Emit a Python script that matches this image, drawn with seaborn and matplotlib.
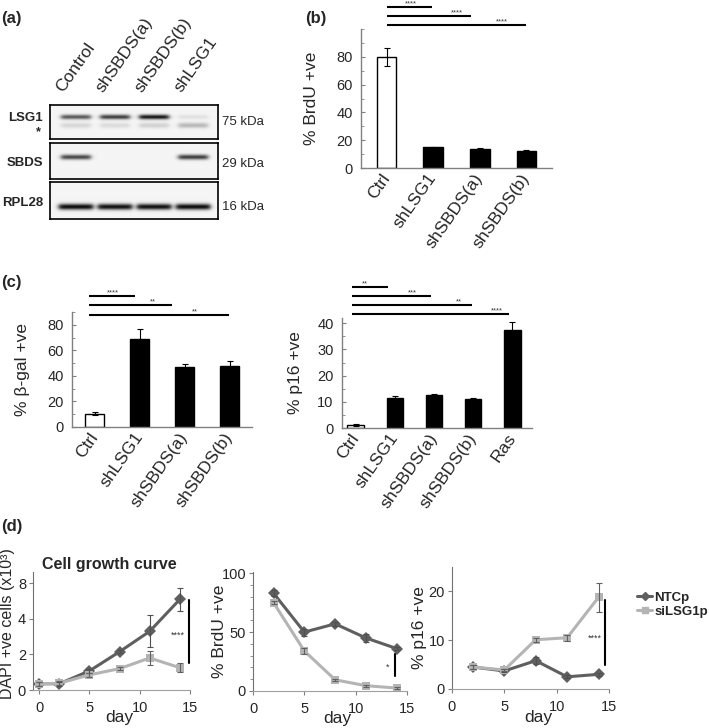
import numpy as np
import pandas as pd
import matplotlib
matplotlib.use("Agg")
import matplotlib.pyplot as plt
import seaborn as sns
from matplotlib.ticker import MultipleLocator
from matplotlib.lines import Line2D

# ── Data ──────────────────────────────────────────────────────────────────────
# (a) western blot, relative band intensities per lane
blot_lanes  = ["Control", "shSBDS(a)", "shSBDS(b)", "shLSG1"]
lsg1_upper  = [0.62, 0.72, 0.88, 0.08]
lsg1_lower  = [0.12, 0.10, 0.14, 0.24]
sbds_band   = [0.68, 0.0, 0.0, 0.72]
rpl28_band  = [0.92, 0.90, 0.90, 0.92]

# (b) BrdU
brdu_groups = ["Ctrl", "shLSG1", "shSBDS(a)", "shSBDS(b)"]
brdu_vals   = [80, 15, 13.4, 12.3]
brdu_errs   = [6.5, 0.4, 1.2, 0.3]

# (c) beta-gal and p16
bgal_groups = ["Ctrl", "shLSG1", "shSBDS(a)", "shSBDS(b)"]
bgal_vals   = [10.5, 68.8, 46.8, 47.6]
bgal_errs   = [1.0, 8.0, 2.4, 4.0]

p16_groups  = ["Ctrl", "shLSG1", "shSBDS(a)", "shSBDS(b)", "Ras"]
p16_vals    = [1.2, 11.6, 12.7, 11.1, 37.6]
p16_errs    = [0.3, 0.7, 0.3, 0.3, 3.0]

# (d) time courses
growth_days = [0, 2, 5, 8, 11, 14]
growth_ntc  = [0.35, 0.35, 1.07, 2.15, 3.3, 5.1]
growth_ntc_err = [0.1, 0.1, 0.12, 0.08, 0.9, 0.65]
growth_si   = [0.35, 0.38, 0.85, 1.2, 1.8, 1.25]
growth_si_err = [0.1, 0.1, 0.1, 0.08, 0.4, 0.25]

tc_days     = [2, 5, 8, 11, 14]
brdu_ntc    = [83, 50, 57, 45, 36]
brdu_ntc_err = [2.5, 3, 1.5, 3, 1]
brdu_si     = [75, 34, 9.5, 4.5, 2.5]
brdu_si_err = [1.5, 2.5, 1, 1, 1]

p16_ntc     = [4.5, 3.7, 5.8, 2.5, 3.0]
p16_ntc_err = [0.5, 0.3, 0.7, 0.3, 0.3]
p16_si      = [4.5, 3.9, 10.1, 10.5, 18.8]
p16_si_err  = [0.5, 0.3, 0.4, 0.6, 3.0]

# ── Style ─────────────────────────────────────────────────────────────────────
sns.set_style("ticks")
plt.rcParams["font.family"] = ["Liberation Sans", "DejaVu Sans"]

W, H = 709, 728
fig = plt.figure(figsize=(W / 100, H / 100), dpi=100)
AXC = "#808080"
NTC_C, SI_C = "#5f5f5f", "#b4b4b4"


def px_axes(l, t, r, b):
    return fig.add_axes([l / W, 1 - b / H, (r - l) / W, (b - t) / H])


def ftxt(x, y, s, **kw):
    fig.text(x / W, 1 - y / H, s, **kw)


# ── (a) blot ──────────────────────────────────────────────────────────────────
BX = (-0.66, 3.63)


def blot_box(ax, bands, half_w):
    xs = np.linspace(BX[0], BX[1], 420)
    ys = np.linspace(0, 1, 90)
    img = np.full((ys.size, xs.size), 0.04)
    for ypos, thick, ints in bands:
        prof_y = np.exp(-((ys - ypos) / thick) ** 2)
        for lane, inten in enumerate(ints):
            prof_x = (1 / (1 + np.exp(-(xs - (lane - half_w)) / 0.035))
                      * 1 / (1 + np.exp((xs - (lane + half_w)) / 0.035)))
            img += inten * np.outer(prof_y, prof_x)
    ax.imshow(img, cmap="gray_r", vmin=0, vmax=1, aspect="auto",
              extent=(BX[0], BX[1], 1, 0), interpolation="bilinear")
    ax.set_xlim(BX)
    ax.set_ylim(1, 0)
    ax.set_xticks([])
    ax.set_yticks([])
    for s in ax.spines.values():
        s.set_color("black")
        s.set_linewidth(1.2)


ax_b1 = px_axes(50, 105, 218, 139)
blot_box(ax_b1, [(0.35, 0.07, lsg1_upper), (0.60, 0.08, lsg1_lower)], 0.38)
ax_b2 = px_axes(50, 143, 218, 179)
blot_box(ax_b2, [(0.39, 0.07, sbds_band)], 0.38)
ax_b3 = px_axes(50, 182, 218, 219)
blot_box(ax_b3, [(0.68, 0.08, rpl28_band)], 0.44)

for i, name in enumerate(blot_lanes):
    ax_b1.text(i - 0.25, -0.3, name, rotation=55, rotation_mode="anchor",
               ha="left", va="bottom", fontsize=12.5,
               transform=ax_b1.transData, clip_on=False)

for y, s in [(118, "LSG1"), (163, "SBDS"), (203, "RPL28")]:
    ftxt(43, y, s, ha="right", va="center", fontsize=9.5, fontweight="bold")
ftxt(38, 132, "*", ha="center", va="center", fontsize=9, fontweight="bold")
for y, s in [(122, "75 kDa"), (164, "29 kDa"), (207, "16 kDa")]:
    ftxt(222, y, s, ha="left", va="center", fontsize=9.5)


# ── bar panels ────────────────────────────────────────────────────────────────
def bar_panel(ax, groups, vals, errs, xlim, ylim, major, minor, ylabel, lx):
    df = pd.DataFrame({"group": groups, "value": vals})
    colors = ["white"] + ["black"] * (len(groups) - 1)
    sns.barplot(data=df, x="group", y="value", hue="group", palette=colors,
                edgecolor="black", linewidth=1, width=0.42, legend=False,
                errorbar=None, ax=ax)
    ax.errorbar(np.arange(len(groups)), vals, yerr=errs, fmt="none",
                ecolor="black", elinewidth=0.8, capsize=2.5, capthick=0.8)
    ax.set_xlim(xlim)
    ax.set_ylim(ylim)
    ax.set_xlabel("")
    ax.set_ylabel(ylabel, fontsize=12.5)
    ax.yaxis.set_label_coords(lx, 0.5)
    ax.yaxis.set_major_locator(MultipleLocator(major))
    ax.yaxis.set_minor_locator(MultipleLocator(minor))
    ax.tick_params(axis="y", direction="in", length=3, labelsize=10.5,
                   color=AXC, pad=6)
    ax.tick_params(axis="y", which="minor", direction="in", length=2,
                   color=AXC)
    ax.tick_params(axis="x", length=0, labelsize=12.5, pad=5)
    for lbl in ax.get_xticklabels():
        lbl.set_rotation(55)
        lbl.set_ha("right")
        lbl.set_va("center")
        lbl.set_rotation_mode("anchor")
    sns.despine(ax=ax)
    for s in ("left", "bottom"):
        ax.spines[s].set_color(AXC)
        ax.spines[s].set_linewidth(1)


def sig_line(ax, x0, x1, y, stars, sx):
    ax.plot([x0, x1], [y, y], color="black", lw=1.5, clip_on=False,
            solid_capstyle="butt")
    ax.annotate(stars, (sx, y), xytext=(0, 2.2), textcoords="offset points",
                ha="center", va="center", fontsize=5.5, color="#333333",
                annotation_clip=False)


# (b)
ax_brdu = px_axes(361, 29, 552, 168)
bar_panel(ax_brdu, brdu_groups, brdu_vals, brdu_errs, (-0.55, 3.55),
          (0, 100), 20, 10, "% BrdU +ve", -0.22)
ax_brdu.set_yticks([0, 20, 40, 60, 80])
sig_line(ax_brdu, 0, 0.98, 116, "****", 0.53)
sig_line(ax_brdu, 0, 1.81, 109.5, "****", 1.51)
sig_line(ax_brdu, 0, 3.0, 103, "****", 2.47)

# (c) left
ax_bgal = px_axes(72, 312, 252, 427)
bar_panel(ax_bgal, bgal_groups, bgal_vals, bgal_errs, (-0.5, 3.5),
          (0, 90), 20, 10, "% β-gal +ve", -0.235)
ax_bgal.set_yticks([0, 20, 40, 60, 80])
sig_line(ax_bgal, -0.13, 0.89, 102.7, "****", 0.4)
sig_line(ax_bgal, -0.13, 1.73, 95.7, "**", 1.29)
sig_line(ax_bgal, -0.13, 2.98, 87.8, "**", 2.24)

# (c) right
ax_p16 = px_axes(342, 318, 532, 428)
bar_panel(ax_p16, p16_groups, p16_vals, p16_errs, (-0.35, 4.5),
          (0, 42), 10, 5, "% p16 +ve", -0.205)
ax_p16.set_yticks([0, 10, 20, 30, 40])
sig_line(ax_p16, -0.09, 0.83, 53.8, "**", 0.24)
sig_line(ax_p16, -0.09, 1.91, 50.4, "***", 1.45)
sig_line(ax_p16, -0.09, 2.96, 46.9, "**", 2.63)
sig_line(ax_p16, -0.09, 3.91, 43.5, "****", 3.6)


# ── (d) line panels ───────────────────────────────────────────────────────────
def line_panel(ax, days, ntc, ntc_err, si, si_err, xlim, ylim, ylabel, lx,
               lsize=12.5):
    n = len(days)
    df = pd.DataFrame({"day": list(days) * 2, "value": list(ntc) + list(si),
                       "group": ["NTCp"] * n + ["siLSG1p"] * n})
    sns.lineplot(data=df, x="day", y="value", hue="group", style="group",
                 markers={"NTCp": "D", "siLSG1p": "s"}, dashes=False,
                 palette={"NTCp": NTC_C, "siLSG1p": SI_C}, linewidth=2.2,
                 markersize=6, markeredgewidth=0, legend=False, ax=ax)
    ax.errorbar(days, ntc, yerr=ntc_err, fmt="none", ecolor="#505050",
                elinewidth=0.8, capsize=2, capthick=0.8)
    ax.errorbar(days, si, yerr=si_err, fmt="none", ecolor="#606060",
                elinewidth=0.8, capsize=2, capthick=0.8)
    ax.set_xlim(xlim)
    ax.set_ylim(ylim)
    ax.set_xticks([0, 5, 10, 15])
    ax.set_xlabel("day", fontsize=12.5)
    ax.xaxis.set_label_coords(0.55, -0.17)
    ax.set_ylabel(ylabel, fontsize=lsize)
    ax.yaxis.set_label_coords(lx, 0.5)
    ax.tick_params(labelsize=10.5, length=3, color=AXC, pad=5)
    ax.tick_params(axis="y", pad=2)
    sns.despine(ax=ax)
    ax.spines["left"].set_color("#707070")
    ax.spines["bottom"].set_color("#a0a0a0")


def vsig(ax, x, y0, y1, stars, sx, sy):
    ax.plot([x, x], [y0, y1], color="black", lw=1.5, clip_on=False)
    ax.text(sx, sy, stars, ha="center", va="center", fontsize=6.5,
            color="#333333")


ax_g = px_axes(33, 572, 190, 690)
line_panel(ax_g, growth_days, growth_ntc, growth_ntc_err, growth_si,
           growth_si_err, (-0.6, 15), (0, 6.63), "DAPI +ve cells (x10³)",
           -0.115, lsize=11.5)
ax_g.yaxis.set_label_coords(-0.115, 0.56)
ax_g.set_yticks([0, 2, 4, 6])
ax_g.set_yticklabels(["0", "2", "4", "8"])
vsig(ax_g, 14.9, 5.06, 1.52, "****", 13.8, 3.1)
ftxt(42, 565, "Cell growth curve", ha="left", va="center", fontsize=11.5,
     fontweight="bold")

ax_d2 = px_axes(253, 572, 407, 691)
line_panel(ax_d2, tc_days, brdu_ntc, brdu_ntc_err, brdu_si, brdu_si_err,
           (0, 15), (0, 101), "% BrdU +ve", -0.17)
ax_d2.set_yticks([0, 50, 100])
ax_d2.yaxis.set_minor_locator(MultipleLocator(10))
ax_d2.tick_params(axis="y", which="minor", length=2, color=AXC)
vsig(ax_d2, 13.8, 31, 12.7, "*", 13.1, 20)

ax_d3 = px_axes(452, 567, 609, 689)
line_panel(ax_d3, tc_days, p16_ntc, p16_ntc_err, p16_si, p16_si_err,
           (0, 15), (0, 25), "% p16 +ve", -0.16)
ax_d3.set_yticks([0, 10, 20])
vsig(ax_d3, 14.6, 18.2, 4.9, "****", 13.6, 10.5)

handles = [Line2D([], [], color=NTC_C, lw=2.2, marker="D", markersize=4),
           Line2D([], [], color=SI_C, lw=2.2, marker="s", markersize=4)]
fig.legend(handles, ["NTCp", "siLSG1p"], loc="upper left",
           bbox_to_anchor=(632 / W, 1 - 586 / H), frameon=False,
           prop={"weight": "bold", "size": 9.5}, handlelength=1.1,
           handletextpad=0.2, labelspacing=0.15, borderaxespad=0)

# ── panel letters ─────────────────────────────────────────────────────────────
for x, y, s in [(1, 19, "(a)"), (305, 19, "(b)"), (1, 283, "(c)"),
                (1, 527, "(d)")]:
    ftxt(x, y, s, ha="left", va="center", fontsize=12, fontweight="bold")

fig.savefig("out.png", dpi=100)
